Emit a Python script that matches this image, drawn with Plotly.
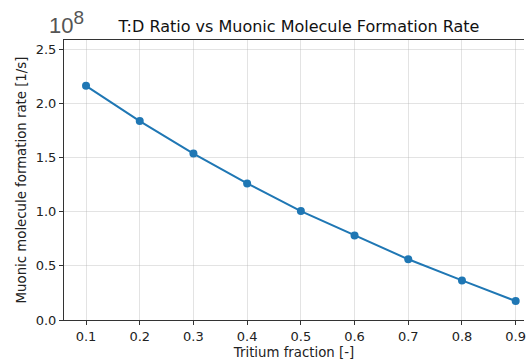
import plotly.graph_objects as go

# Tritium fraction and muonic molecule formation rate
tritium_fraction = [0.1, 0.2, 0.3, 0.4, 0.5, 0.6, 0.7, 0.8, 0.9]
formation_rate = [2.16e8, 1.835e8, 1.535e8, 1.26e8, 1.005e8, 0.78e8, 0.56e8, 0.365e8, 0.175e8]

x_ticks = [0.1, 0.2, 0.3, 0.4, 0.5, 0.6, 0.7, 0.8, 0.9]
y_ticks = [0.0, 0.5e8, 1.0e8, 1.5e8, 2.0e8, 2.5e8]
y_tick_text = ["0.0", "0.5", "1.0", "1.5", "2.0", "2.5"]

blue = "#1f77b4"
font = "DejaVu Sans"

fig = go.Figure()
fig.add_trace(go.Scatter(
    x=tritium_fraction, y=formation_rate,
    mode="lines+markers",
    line=dict(color=blue, width=2),
    marker=dict(color=blue, size=8),
    showlegend=False,
))

fig.update_layout(
    width=526, height=363,
    margin=dict(l=64, r=0, t=40, b=43),
    paper_bgcolor="white", plot_bgcolor="white",
    font=dict(family=font, size=13, color="#222222"),
    title=dict(text="T:D Ratio vs Muonic Molecule Formation Rate",
               x=299 / 526, xanchor="center", y=1 - 26 / 363, yanchor="middle",
               font=dict(family=font, size=16, color="#111111")),
)

fig.update_xaxes(
    range=[0.059, 0.9155],
    tickvals=x_ticks, ticktext=[f"{v:.1f}" for v in x_ticks],
    ticklabeloverflow="allow",
    showgrid=True, gridcolor="rgba(176,176,176,0.35)", gridwidth=1,
    showline=True, linecolor="#333333", linewidth=1, mirror=True,
    ticks="outside", ticklen=4, tickcolor="#333333",
    zeroline=False,
    title=dict(text="Tritium fraction [-]", font=dict(size=13.3), standoff=5),
)
fig.update_yaxes(
    range=[0, 2.583e8],
    tickvals=y_ticks, ticktext=y_tick_text,
    showgrid=True, gridcolor="rgba(176,176,176,0.35)", gridwidth=1,
    showline=True, linecolor="#333333", linewidth=1,
    ticks="outside", ticklen=4, tickcolor="#333333",
    zeroline=False,
    title=dict(text="Muonic molecule formation rate [1/s]", font=dict(size=13.3), standoff=6),
)

# Scale factor for the y axis
fig.add_annotation(
    text="10<sup><span style='font-size:19px'>8</span></sup>",
    xref="paper", yref="paper",
    x=(47 - 64) / 462, y=1.0, xanchor="left", yanchor="bottom",
    showarrow=False, font=dict(family="Liberation Sans", size=22, color="#555555"),
)

fig.write_html("out.html")
